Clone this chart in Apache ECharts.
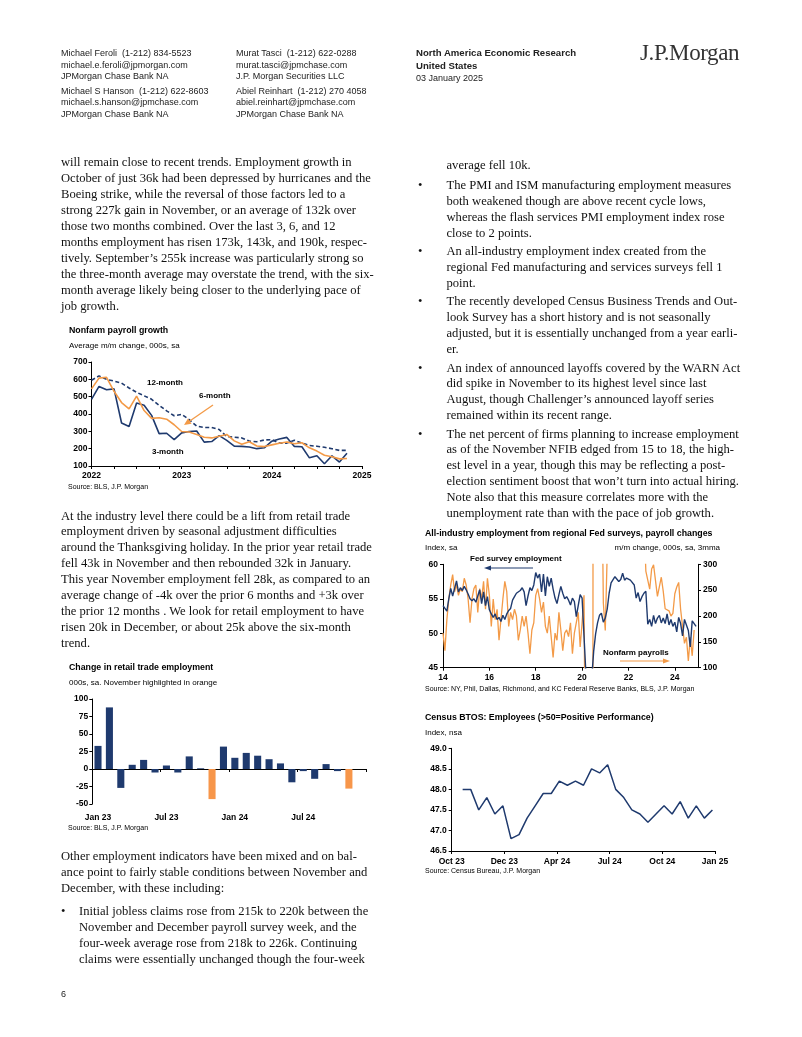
<!DOCTYPE html>
<html><head><meta charset="utf-8">
<script src="https://cdn.jsdelivr.net/npm/echarts@6/dist/echarts.min.js"></script>
<style>
html,body{margin:0;padding:0;background:#fff}
#page{position:relative;width:802px;height:1037px;overflow:hidden;background:#fff}
.t{position:absolute;white-space:pre;font-family:"Liberation Serif","Times New Roman",serif;font-size:12.6px;line-height:16px;color:#111}
.h{position:absolute;white-space:pre;font-family:"Liberation Sans",Arial,sans-serif;font-size:9px;line-height:12px;color:#222}
.b{font-weight:bold;font-size:9.6px}
.logo{position:absolute;white-space:nowrap;font-family:"Liberation Serif","Times New Roman",serif;font-size:23px;line-height:24px;color:#333;letter-spacing:-0.4px}
#chart{position:absolute;left:0;top:0;width:802px;height:1037px}
</style></head><body><div id="page"><div id="chart"></div></div>
<script>
// ================= DATA =================
function monthRange(y0, m0, y1, m1) {
  const out = [];
  let y = y0, m = m0;
  while (y < y1 || (y === y1 && m <= m1)) {
    out.push(y + '-' + String(m).padStart(2, '0'));
    m++; if (m > 12) { m = 1; y++; }
  }
  return out;
}
// Chart 1: Nonfarm payroll growth (Jan 2022 - Nov 2024), axis to Jan 2025
const nfpMonths = monthRange(2022, 1, 2025, 1);
const nfp3m = [484,559,540,545,348,328,463,450,392,287,289,252,
               291,299,302,238,241,275,248,214,213,210,200,205,
               243,256,265,213,211,147,159,113,159,123,173];
const nfp6m = [545,607,612,531,466,430,503,420,375,378,370,338,
               299,296,282,266,262,272,282,245,225,240,215,212,
               222,231,238,228,234,205,186,162,153,141,143];
const nfp12m = [595,620,600,590,578,550,525,505,485,450,418,390,
                398,368,330,322,322,310,270,266,262,244,240,250,
                252,232,232,248,232,218,214,208,200,190,190];

// Chart 2: Change in retail trade employment
const retailMonths = ['Jan 23','Feb 23','Mar 23','Apr 23','May 23','Jun 23','Jul 23','Aug 23','Sep 23','Oct 23','Nov 23','Dec 23',
                      'Jan 24','Feb 24','Mar 24','Apr 24','May 24','Jun 24','Jul 24','Aug 24','Sep 24','Oct 24','Nov 24','Dec 24'];
const retailChange = [33,88,-27,6,13,-5,5,-5,18,1,-43,32,
                      16,23,19,14,8,-19,-3,-14,7,-3,-28,null];

// Chart 3: Fed survey employment (left) and NFP 3mma (right), Jan 2014 - Jan 2025 axis
const fedMonths = monthRange(2014, 1, 2025, 1);
const fedSurvey = [
  54.0,53.6,53.2,55.0,56.5,55.4,56.5,57.6,56.0,56.6,56.2,56.8,
  56.3,55.7,55.0,54.7,55.0,54.5,55.4,56.3,54.3,56.0,54.0,55.3,
  53.4,52.8,52.3,52.8,52.0,52.3,51.7,52.6,52.0,52.8,53.3,53.6,
  54.8,55.3,55.8,55.6,56.2,56.6,56.0,54.0,55.4,56.6,56.2,57.0,
  58.8,58.0,58.6,56.0,58.6,55.4,58.2,56.8,58.0,56.4,55.1,54.3,
  55.6,56.8,55.8,55.0,55.3,54.8,54.1,55.1,54.6,52.4,54.0,55.6,
  55.1,55.3,44.0,28.0,33.0,43.5,47.4,49.9,51.5,52.6,52.9,51.6,
  52.2,53.5,55.8,57.3,57.5,58.2,58.0,57.5,57.8,58.7,57.7,58.0,
  58.2,57.7,57.7,57.0,55.1,55.9,54.6,55.3,55.8,56.1,51.3,52.0,
  51.0,52.6,51.4,52.2,52.6,51.5,52.2,51.4,52.8,51.2,52.0,51.0,
  51.6,50.2,52.3,51.4,49.6,52.0,52.1,50.4,48.0,51.8,52.0,51.0];
const payrolls3mma = [
  167,133,193,233,260,280,247,260,240,253,247,273,
  260,233,187,233,253,260,207,253,233,267,213,273,
  240,180,233,193,213,153,153,233,267,247,180,207,
  193,213,200,153,173,200,180,200,167,127,173,187,
  240,253,233,207,227,180,167,200,160,120,167,153,
  207,173,133,167,173,160,187,127,167,167,207,140,
  187,240,-300,-7000,-6000,-4400,2900,2800,1200,960,553,225,
  172,320,640,600,520,610,800,780,560,500,460,560,
  484,559,540,545,348,328,463,450,392,287,289,252,
  291,299,302,238,241,275,248,214,213,210,200,205,
  243,256,265,213,211,147,159,113,159,123,173];

// Chart 4: Census BTOS employees index (biweekly)
const btosDates = ['2023-10-20','2023-11-03','2023-11-17','2023-12-01','2023-12-15','2023-12-29',
  '2024-01-12','2024-01-26','2024-02-09','2024-02-23','2024-03-08','2024-03-22','2024-04-05','2024-04-19',
  '2024-05-03','2024-05-17','2024-05-31','2024-06-14','2024-06-28','2024-07-12','2024-07-26','2024-08-09',
  '2024-08-23','2024-09-06','2024-09-20','2024-10-04','2024-10-18','2024-11-01','2024-11-15','2024-11-29',
  '2024-12-13','2024-12-27'];
const btosValues = [48.0,48.0,47.5,47.8,47.4,47.6,46.8,46.9,47.3,47.6,47.9,47.9,48.2,48.1,48.2,48.1,
  48.5,48.4,48.6,48.0,47.8,47.5,47.4,47.2,47.4,47.6,47.4,47.7,47.3,47.6,47.3,47.5];
const btosAxisStart = '2023-10-01';
const btosQuarterLabels = ['Oct 23','Dec 23','Apr 24','Jul 24','Oct 24','Jan 25'];

// ================= PAGE TEXT =================
const page = document.getElementById('page');
function put(cls, x, yc, lines, step, lh) {
  lines.forEach((s, i) => {
    const d = document.createElement('div');
    d.className = cls;
    d.style.left = x + 'px';
    d.style.top = (yc + i * step - lh / 2) + 'px';
    d.textContent = s;
    page.appendChild(d);
  });
}
// header
put('h', 61, 53, ['Michael Feroli  (1-212) 834-5523','michael.e.feroli@jpmorgan.com','JPMorgan Chase Bank NA'], 11.7, 12);
put('h', 61, 90.5, ['Michael S Hanson  (1-212) 622-8603','michael.s.hanson@jpmchase.com','JPMorgan Chase Bank NA'], 11.7, 12);
put('h', 236, 53, ['Murat Tasci  (1-212) 622-0288','murat.tasci@jpmchase.com','J.P. Morgan Securities LLC'], 11.7, 12);
put('h', 236, 90.5, ['Abiel Reinhart  (1-212) 270 4058','abiel.reinhart@jpmchase.com','JPMorgan Chase Bank NA'], 11.7, 12);
put('h b', 416, 53, ['North America Economic Research'], 12, 12);
put('h b', 416, 66, ['United States'], 12, 12);
put('h', 416, 78, ['03 January 2025'], 12, 12);
put('logo', 640, 53, ['J.P.Morgan'], 24, 24);
put('h', 61, 994, ['6'], 12, 12);

// left column
put('t', 61, 162, [
 'will remain close to recent trends. Employment growth in',
 'October of just 36k had been depressed by hurricanes and the',
 'Boeing strike, while the reversal of those factors led to a',
 'strong 227k gain in November, or an average of 132k over',
 'those two months combined. Over the last 3, 6, and 12',
 'months employment has risen 173k, 143k, and 190k, respec-',
 'tively. September\u2019s 255k increase was particularly strong so',
 'the three-month average may overstate the trend, with the six-',
 'month average likely being closer to the underlying pace of',
 'job growth.'], 15.95, 16);
put('t', 61, 515.5, [
 'At the industry level there could be a lift from retail trade',
 'employment driven by seasonal adjustment difficulties',
 'around the Thanksgiving holiday. In the prior year retail trade',
 'fell 43k in November and then rebounded 32k in January.',
 'This year November employment fell 28k, as compared to an',
 'average change of -4k over the prior 6 months and +3k over',
 'the prior 12 months . We look for retail employment to have',
 'risen 20k in December, or about 25k above the six-month',
 'trend.'], 15.9, 16);
put('t', 61, 856, [
 'Other employment indicators have been mixed and on bal-',
 'ance point to fairly stable conditions between November and',
 'December, with these including:'], 15.9, 16);
put('t', 61, 911, ['\u2022'], 16, 16);
put('t', 79, 911, [
 'Initial jobless claims rose from 215k to 220k between the',
 'November and December payroll survey week, and the',
 'four-week average rose from 218k to 226k. Continuing',
 'claims were essentially unchanged though the four-week'], 15.9, 16);

// right column
put('t', 446.5, 165, ['average fell 10k.'], 16, 16);
const bullets = [
 [185, ['The PMI and ISM manufacturing employment measures','both weakened though are above recent cycle lows,','whereas the flash services PMI employment index rose','close to 2 points.']],
 [251, ['An all-industry employment index created from the','regional Fed manufacturing and services surveys fell 1','point.']],
 [301, ['The recently developed Census Business Trends and Out-','look Survey has a short history and is not seasonally','adjusted, but it is essentially unchanged from a year earli-','er.']],
 [367.5, ['An index of announced layoffs covered by the WARN Act','did spike in November to its highest level since last','August, though Challenger\u2019s announced layoff series','remained within its recent range.']],
 [433.5, ['The net percent of firms planning to increase employment','as of the November NFIB edged from 15 to 18, the high-','est level in a year, though this may be reflecting a post-','election sentiment boost that won\u2019t turn into actual hiring.','Note also that this measure correlates more with the','unemployment rate than with the pace of job growth.']]
];
bullets.forEach(([y, lines]) => { put('t', 418, y, ['\u2022'], 16, 16); put('t', 446.5, y, lines, 15.95, 16); });

// ================= CHART =================
const NAVY = '#1F3A6E', ORANGE = '#F39A47', BAR_ORANGE = '#F7964A';
const FF = '"Liberation Sans", Arial, sans-serif';
function txt(x, y, text, size, bold, opt) {
  opt = opt || {};
  return { type: 'text', x: x, y: y, silent: true, z: 100,
    style: { text: text, fill: opt.fill || '#000', fontSize: size, fontFamily: FF,
             fontWeight: bold ? 'bold' : 'normal', verticalAlign: 'middle', align: opt.align || 'left' } };
}
function arrow(x1, y1, x2, y2, color, w, hl, hw) {
  const dx = x2 - x1, dy = y2 - y1, L = Math.hypot(dx, dy), ux = dx / L, uy = dy / L;
  const bx = x2 - ux * hl, by = y2 - uy * hl, px = -uy * hw, py = ux * hw;
  return [
    { type: 'line', silent: true, z: 90, shape: { x1: x1, y1: y1, x2: bx, y2: by }, style: { stroke: color, lineWidth: w } },
    { type: 'polygon', silent: true, z: 90, shape: { points: [[x2, y2], [bx + px, by + py], [bx - px, by - py]] }, style: { fill: color } }
  ];
}
const DAY = 86400000;
const dayOffset = d => Math.round((new Date(d + 'T00:00:00Z') - new Date(btosAxisStart + 'T00:00:00Z')) / DAY);
const btosSeries = btosDates.map((d, i) => [dayOffset(d), btosValues[i]]);

const axisLine = { show: true, lineStyle: { color: '#000', width: 1 } };
const tick = { show: true, length: 3, lineStyle: { color: '#000', width: 1 } };
const lab = (extra) => Object.assign({ color: '#000', fontSize: 8.5, fontWeight: 'bold', fontFamily: FF }, extra || {});

const retailColored = retailChange.map((v, i) => ({
  value: v, itemStyle: { color: retailMonths[i].startsWith('Nov') ? BAR_ORANGE : NAVY } }));

const TS = 8.8, SS = 8, SRC = 7, LS = 8;
const option = {
  animation: false,
  grid: [
    { left: 91.5, top: 362, width: 270.5, height: 104, containLabel: false, outerBoundsMode: 'none' },
    { left: 92.3, top: 699, width: 273.7, height: 105, containLabel: false, outerBoundsMode: 'none' },
    { left: 443, top: 564.3, width: 255, height: 103.4, containLabel: false, outerBoundsMode: 'none' },
    { left: 451.7, top: 748.3, width: 263.3, height: 102.7, containLabel: false, outerBoundsMode: 'none' }
  ],
  xAxis: [
    { gridIndex: 0, type: 'category', data: nfpMonths, boundaryGap: false, axisLine: axisLine,
      axisTick: Object.assign({}, tick, { interval: 2 }),
      axisLabel: lab({ interval: 11, margin: 5, formatter: v => v.slice(0, 4) }), splitLine: { show: false } },
    { gridIndex: 1, type: 'category', data: retailMonths, boundaryGap: true,
      axisLine: Object.assign({ onZero: true }, axisLine),
      axisTick: Object.assign({}, tick, { interval: 5, alignWithLabel: false }),
      axisLabel: { show: false }, splitLine: { show: false } },
    { gridIndex: 1, type: 'category', data: retailMonths, boundaryGap: true, position: 'bottom',
      axisLine: { show: false, onZero: false }, axisTick: { show: false },
      axisLabel: lab({ interval: 5, margin: 9 }), splitLine: { show: false } },
    { gridIndex: 2, type: 'category', data: fedMonths, boundaryGap: false, axisLine: axisLine,
      axisTick: Object.assign({}, tick, { interval: 23 }),
      axisLabel: lab({ interval: 23, margin: 5, formatter: v => v.slice(2, 4) }), splitLine: { show: false } },
    { gridIndex: 3, type: 'value', min: 0, max: 457.5, interval: 91.5, axisLine: axisLine,
      axisTick: tick,
      axisLabel: lab({ margin: 6, showMinLabel: true, showMaxLabel: true,
        formatter: v => btosQuarterLabels[Math.round(v / 91.5)] || '' }),
      splitLine: { show: false } }
  ],
  yAxis: [
    { gridIndex: 0, type: 'value', min: 100, max: 700, interval: 100, axisLine: axisLine, axisTick: tick,
      axisLabel: lab({ margin: 4 }), splitLine: { show: false } },
    { gridIndex: 1, type: 'value', min: -50, max: 100, interval: 25, axisLine: axisLine, axisTick: tick,
      axisLabel: lab({ margin: 4 }), splitLine: { show: false } },
    { gridIndex: 2, type: 'value', min: 45, max: 60, interval: 5, axisLine: axisLine, axisTick: tick,
      axisLabel: lab({ margin: 5 }), splitLine: { show: false } },
    { gridIndex: 2, type: 'value', position: 'right', min: 100, max: 300, interval: 50, axisLine: axisLine, axisTick: tick,
      axisLabel: lab({ margin: 5 }), splitLine: { show: false } },
    { gridIndex: 3, type: 'value', min: 46.5, max: 49, interval: 0.5, axisLine: axisLine, axisTick: tick,
      axisLabel: lab({ margin: 5, formatter: v => v.toFixed(1) }), splitLine: { show: false } }
  ],
  series: [
    { type: 'line', xAxisIndex: 0, yAxisIndex: 0, data: nfp12m, symbol: 'none', z: 3,
      lineStyle: { color: NAVY, width: 1.6, type: [4, 2.5] } },
    { type: 'line', xAxisIndex: 0, yAxisIndex: 0, data: nfp3m, symbol: 'none', z: 4,
      lineStyle: { color: NAVY, width: 1.6 } },
    { type: 'line', xAxisIndex: 0, yAxisIndex: 0, data: nfp6m, symbol: 'none', z: 5,
      lineStyle: { color: ORANGE, width: 1.6 } },
    { type: 'bar', xAxisIndex: 1, yAxisIndex: 1, data: retailColored, barWidth: '62%' },
    { type: 'line', xAxisIndex: 3, yAxisIndex: 3, data: payrolls3mma, symbol: 'none', clip: true, z: 3,
      lineStyle: { color: ORANGE, width: 1.3 } },
    { type: 'line', xAxisIndex: 3, yAxisIndex: 2, data: fedSurvey, symbol: 'none', clip: true, z: 4,
      lineStyle: { color: NAVY, width: 1.4 } },
    { type: 'line', xAxisIndex: 4, yAxisIndex: 4, data: btosSeries,
      symbol: 'none', lineStyle: { color: NAVY, width: 1.5 } }
  ],
  graphic: [].concat(
    [txt(69, 331, 'Nonfarm payroll growth', TS, true),
     txt(69, 345.5, 'Average m/m change, 000s, sa', SS, false),
     txt(68, 487, 'Source: BLS, J.P. Morgan', SRC, false),
     txt(147, 383, '12-month', LS, true),
     txt(199, 396, '6-month', LS, true),
     txt(152, 452, '3-month', LS, true)],
    arrow(213, 405, 184, 425, ORANGE, 1.3, 7, 3.2),
    [txt(69, 668, 'Change in retail trade employment', TS, true),
     txt(69, 683, '000s, sa. November highlighted in orange', SS, false),
     txt(68, 828, 'Source: BLS, J.P. Morgan', SRC, false)],
    [txt(425, 533.5, 'All-industry employment from regional Fed surveys, payroll changes', TS, true),
     txt(425, 548, 'Index, sa', SS, false),
     txt(720, 548, 'm/m change, 000s, sa, 3mma', SS, false, { align: 'right' }),
     txt(425, 689, 'Source: NY, Phil, Dallas, Richmond, and KC Federal Reserve Banks, BLS, J.P. Morgan', SRC, false),
     txt(470, 558.5, 'Fed survey employment', LS, true),
     txt(603, 652.5, 'Nonfarm payrolls', LS, true)],
    arrow(533, 568, 484, 568, NAVY, 1.2, 7, 2.5),
    arrow(620, 661, 670, 661, ORANGE, 1.2, 7, 2.5),
    [txt(425, 718, 'Census BTOS: Employees (>50=Positive Performance)', TS, true),
     txt(425, 732.5, 'Index, nsa', SS, false),
     txt(425, 871.5, 'Source: Census Bureau, J.P. Morgan', SRC, false)]
  )
};
const chart = echarts.init(document.getElementById('chart'), null, { renderer: 'canvas', width: 802, height: 1037 });
chart.setOption(option);
</script></body></html>
